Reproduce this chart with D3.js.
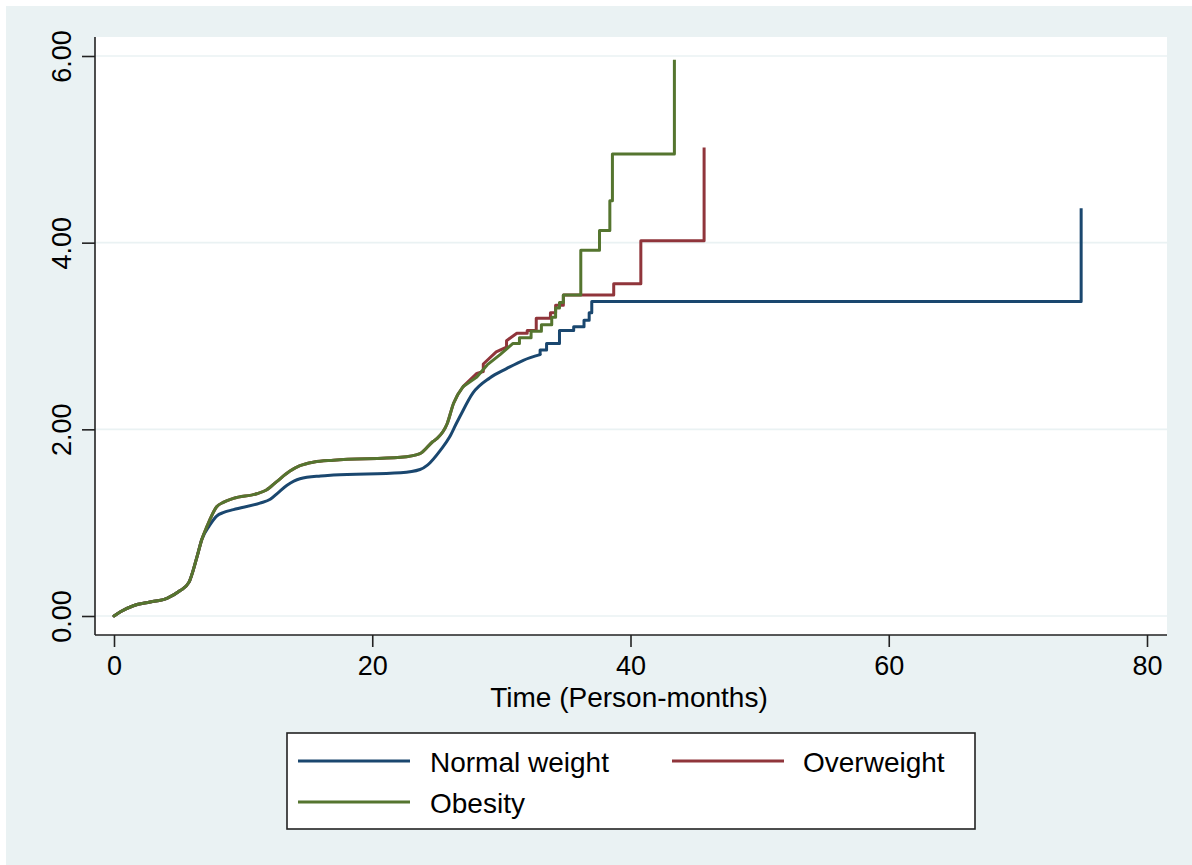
<!DOCTYPE html>
<html>
<head>
<meta charset="utf-8">
<script src="https://cdn.jsdelivr.net/npm/d3@7"></script>
<style>
  html, body { margin: 0; padding: 0; background: #ffffff; }
  svg { display: block; }
  text { font-family: "Liberation Sans", Arial, Helvetica, sans-serif; fill: #000; }
</style>
</head>
<body>
<svg id="chart" width="1192" height="865"></svg>
<script>
// ---------- data (time in person-months, cumulative hazard) ----------
const xTicks = [0, 20, 40, 60, 80];
const yTicks = [0, 2, 4, 6];
const seriesNames = ["Normal weight", "Overweight", "Obesity"];
const seriesColors = ["#1a476f", "#90353b", "#55752f"];

// smooth (densely-evented) portion of each curve
const sharedStart = [[0,0],[0.5,0.045],[1.5,0.11],[2.8,0.15],[4.1,0.19],[5.1,0.27],[5.8,0.36],[6.4,0.62],[6.8,0.82]];

const normalSmooth = sharedStart.concat([
  [7.4,0.97],[7.95,1.07],[8.5,1.11],[9.25,1.14],[11.3,1.21],[12.1,1.25],[12.7,1.32],[13.4,1.40],
  [14.4,1.47],[16,1.50],[17,1.51],[22.2,1.535],[23.7,1.57],[24.3,1.62],[25.3,1.78],[26,1.92],
  [26.5,2.06],[26.8,2.14],[27.8,2.39],[29.1,2.55],[30.4,2.65],[31.7,2.74],[33,2.80]
]);
const greenSmooth = sharedStart.concat([
  [7.2,0.96],[7.95,1.17],[8.5,1.22],[9.25,1.26],[11.05,1.31],[11.8,1.35],[12.6,1.44],[13.6,1.55],
  [14.4,1.61],[15.5,1.65],[17,1.67],[22.2,1.70],[23.7,1.74],[24.7,1.87],[25,1.90],[25.8,2.06],
  [26.3,2.28],[27.05,2.46]
]);

// stepped (sparse-event) portion of each curve
const normalSteps = [
  [33,2.80],[33,2.85],[33.5,2.85],[33.5,2.92],[34.5,2.92],[34.5,3.06],[35.6,3.06],[35.6,3.10],
  [36.4,3.10],[36.4,3.17],[36.8,3.17],[36.8,3.25],[37.0,3.25],[37.0,3.37],[74.9,3.37],[74.9,4.37]
];
const overweightSteps = [
  [27.05,2.46],[28.1,2.60],[28.6,2.62],[28.6,2.70],[29.6,2.83],[30.4,2.88],[30.4,2.95],[31.2,3.03],[32,3.03],
  [32,3.06],[32.7,3.06],[32.7,3.19],[33.8,3.19],[33.8,3.25],[34.2,3.25],[34.2,3.33],[34.8,3.33],
  [34.8,3.44],[38.7,3.44],[38.7,3.56],[40.8,3.56],[40.8,4.02],[45.7,4.02],[45.7,5.02]
];
const obesitySteps = [
  [27.05,2.46],[28.1,2.56],[28.9,2.69],[29.9,2.80],[30.9,2.92],[31.4,2.92],[31.4,2.98],[32.3,2.98],[32.3,3.05],
  [33.1,3.05],[33.1,3.12],[33.9,3.12],[33.9,3.20],[34.2,3.20],[34.2,3.30],[34.5,3.30],[34.5,3.36],
  [34.8,3.36],[34.8,3.44],[36.15,3.44],[36.15,3.92],[37.6,3.92],[37.6,4.13],[38.4,4.13],[38.4,4.45],
  [38.6,4.45],[38.6,4.95],[43.4,4.95],[43.4,5.96]
];

const seriesSmooth = [normalSmooth, greenSmooth, greenSmooth];
const seriesSteps = [normalSteps, overweightSteps, obesitySteps];

// ---------- layout ----------
const svg = d3.select("#chart");
const bg = "#eaf2f3";
const plot = {left: 95, right: 1167, top: 37, bottom: 635};

svg.append("rect").attr("x", 6).attr("y", 6).attr("width", 1186).attr("height", 859).attr("fill", bg);
svg.append("rect").attr("x", plot.left).attr("y", plot.top)
  .attr("width", plot.right - plot.left).attr("height", plot.bottom - plot.top).attr("fill", "#ffffff");

const x = d3.scaleLinear().domain([0, 80]).range([114, 1147]);
const y = d3.scaleLinear().domain([0, 6]).range([616, 56]);

// gridlines
svg.append("g").selectAll("line").data(yTicks).join("line")
  .attr("x1", plot.left).attr("x2", plot.right)
  .attr("y1", d => y(d)).attr("y2", d => y(d))
  .attr("stroke", bg).attr("stroke-width", 1.6);

// y axis
const yAxis = svg.append("g").attr("transform", `translate(${plot.left},0)`)
  .call(d3.axisLeft(y).tickValues(yTicks).tickSize(13).tickFormat(d3.format(".2f")));
yAxis.select(".domain").attr("d", `M0,${plot.top}V${plot.bottom}`).attr("stroke", "#222").attr("stroke-width", 1.6);
yAxis.selectAll(".tick line").attr("stroke", "#222").attr("stroke-width", 1.6);
yAxis.selectAll(".tick text")
  .attr("x", null).attr("dy", null)
  .attr("transform", "translate(-24,0) rotate(-90)")
  .attr("text-anchor", "middle")
  .style("font-size", "27px")
  .style("font-family", '"Liberation Sans", Arial, sans-serif')
  .attr("fill", "#000");

// x axis
const xAxis = svg.append("g").attr("transform", `translate(0,${plot.bottom})`)
  .call(d3.axisBottom(x).tickValues(xTicks).tickSize(12).tickFormat(d3.format("d")));
xAxis.select(".domain").attr("d", `M${plot.left},0H${plot.right}`).attr("stroke", "#222").attr("stroke-width", 1.6);
xAxis.selectAll(".tick line").attr("stroke", "#222").attr("stroke-width", 1.6);
xAxis.selectAll(".tick text")
  .attr("y", 40).attr("dy", null)
  .style("font-size", "27px")
  .style("font-family", '"Liberation Sans", Arial, sans-serif')
  .attr("fill", "#000");

// axis title
svg.append("text").attr("x", 629).attr("y", 707).attr("text-anchor", "middle")
  .style("font-size", "28px").text("Time (Person-months)");

// curves: smooth part (monotone) + stepped part (linear corners)
const smoothLine = d3.line().x(d => x(d[0])).y(d => y(d[1])).curve(d3.curveMonotoneX);
const stepLine = d3.line().x(d => x(d[0])).y(d => y(d[1]));
const curves = svg.append("g");
seriesNames.forEach((name, i) => {
  const g = curves.append("g").attr("fill", "none").attr("stroke", seriesColors[i])
    .attr("stroke-width", 3).attr("stroke-linejoin", "round").attr("stroke-linecap", "round");
  g.append("path").attr("d", smoothLine(seriesSmooth[i]));
  g.append("path").attr("d", stepLine(seriesSteps[i])).attr("stroke-linecap", "butt");
});

// legend
const lg = svg.append("g");
lg.append("rect").attr("x", 287).attr("y", 733).attr("width", 688).attr("height", 96)
  .attr("fill", "#ffffff").attr("stroke", "#222").attr("stroke-width", 1.6);
const legendPos = [
  {lx: 298, ty: 761, tx: 430},
  {lx: 672, ty: 761, tx: 803},
  {lx: 298, ty: 802, tx: 430}
];
seriesNames.forEach((name, i) => {
  const p = legendPos[i];
  lg.append("line").attr("x1", p.lx).attr("x2", p.lx + 112).attr("y1", p.ty).attr("y2", p.ty)
    .attr("stroke", seriesColors[i]).attr("stroke-width", 2.8);
  lg.append("text").attr("x", p.tx).attr("y", p.ty + 11).style("font-size", "28px").text(name);
});
</script>
</body>
</html>
